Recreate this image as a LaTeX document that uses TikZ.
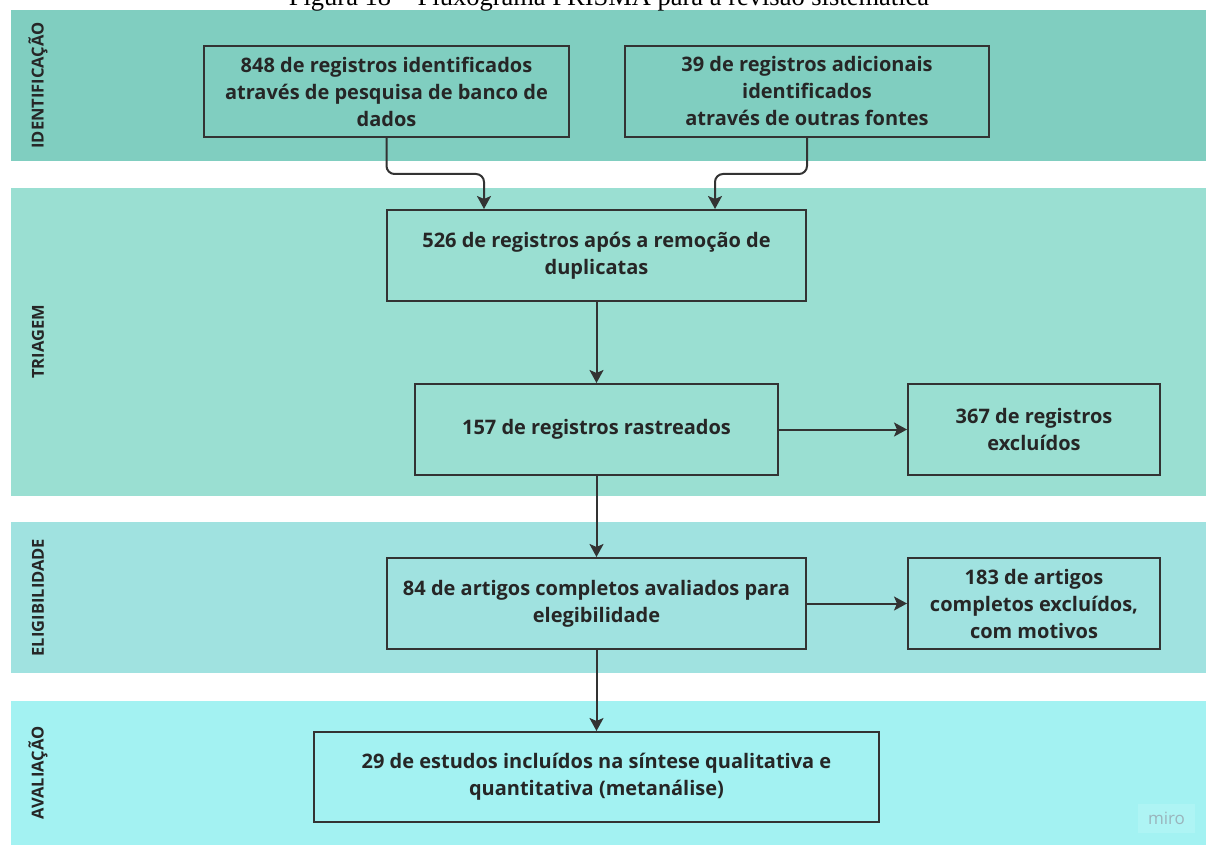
\documentclass[tikz,border=0pt]{standalone}
\usepackage{fontspec}
\setmainfont{Open Sans}
\newfontfamily\capfont{Liberation Serif}
\usetikzlibrary{arrows.meta,positioning,calc}
\definecolor{bandone}{HTML}{80CEC0}
\definecolor{bandtwo}{HTML}{9ADFD2}
\definecolor{bandthree}{HTML}{A0E2E0}
\definecolor{bandfour}{HTML}{A3F2F2}
\definecolor{inkgray}{HTML}{333333}
\definecolor{textdark}{HTML}{262626}
\definecolor{mirofill}{HTML}{AEF4F4}
\definecolor{mirotext}{HTML}{9AB4BC}
\tikzset{
  flowbox/.style={draw=inkgray, line width=2pt, align=center, inner sep=0pt, minimum height=91pt, text=textdark, font=\fontsize{20}{27}\selectfont\bfseries},
  phase/.style={rotate=90, text=textdark, font=\fontsize{16.5}{18}\selectfont\bfseries},
  arrow/.style={-{Stealth[length=13pt, width=14pt, inset=3pt]}, line width=2pt, draw=inkgray}
}
\begin{document}
\begin{tikzpicture}[x=1pt, y=-1pt]
  \useasboundingbox (0,0) rectangle (1206,845);
  \fill[bandone] (11,10) rectangle (1206,161);
  \fill[bandtwo] (11,188) rectangle (1206,496);
  \fill[bandthree] (11,522) rectangle (1206,673);
  \fill[bandfour] (11,701) rectangle (1206,845);
  \node[anchor=base, font=\capfont\fontsize{26.5}{26.5}\selectfont] (cap) at (609,6) {Figura 18 – Fluxograma PRISMA para a revisão sistemática};

  \node[phase] (ph1) at (38,85.5) {IDENTIFICAÇÃO};
  \node[phase] (ph2) at (38,342) {TRIAGEM};
  \node[phase] (ph3) at (38,597.5) {ELIGIBILIDADE};
  \node[phase] (ph4) at (38,773) {AVALIAÇÃO};

  \node[flowbox, minimum width=365pt] (db) at (386.5,91.5) {848 de registros identificados\\através de pesquisa de banco de\\dados};
  \node[flowbox, minimum width=364pt] (other) at (807,91.5) {39 de registros adicionais\\identificados\\através de outras fontes};
  \node[flowbox, minimum width=419pt] (dup) at (596.5,255.5) {526 de registros após a remoção de\\duplicatas};
  \node[flowbox, minimum width=363pt] (scr) at (596.5,429.5) {157 de registros rastreados};
  \node[flowbox, minimum width=252pt] (exc) at (1034,429.5) {367 de registros\\excluídos};
  \node[flowbox, minimum width=419pt] (elig) at (596.5,603.5) {84 de artigos completos avaliados para\\elegibilidade};
  \node[flowbox, minimum width=252pt] (excf) at (1034,603.5) {183 de artigos\\completos excluídos,\\com motivos};
  \node[flowbox, minimum width=565pt, minimum height=90pt] (incl) at (596.5,777) {29 de estudos incluídos na síntese qualitativa e\\quantitativa (metanálise)};

  \node[fill=mirofill, minimum width=57pt, minimum height=29pt, text=mirotext, font=\fontsize{17}{17}\selectfont] (miro) at (1166.5,818.5) {miro};

  \draw[arrow, rounded corners=8pt] (db.south) -- ++(0,36) -| ([xshift=98pt]dup.north west);
  \draw[arrow, rounded corners=8pt] (other.south) -- ++(0,36) -| ([xshift=-92pt]dup.north east);
  \draw[arrow] (dup) -- (scr);
  \draw[arrow] (scr) -- (exc);
  \draw[arrow] (scr) -- (elig);
  \draw[arrow] (elig) -- (excf);
  \draw[arrow] (elig) -- (incl);
\end{tikzpicture}
\end{document}
